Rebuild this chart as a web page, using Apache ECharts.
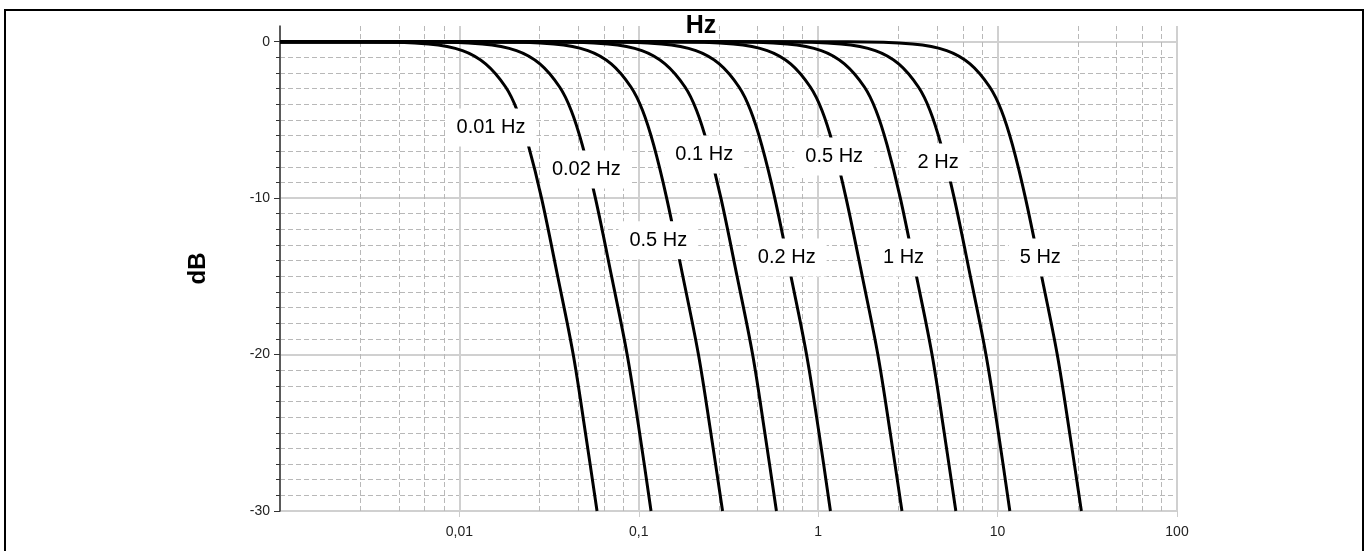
<!DOCTYPE html>
<html>
<head>
<meta charset="utf-8">
<title>Low-pass responses</title>
<script src="https://cdn.jsdelivr.net/npm/echarts@6.0.0/dist/echarts.min.js"></script>
<style>
  html, body { margin: 0; padding: 0; background: #fff; }
  #chart { width: 1370px; height: 551px; }
</style>
</head>
<body>
<div id="chart"></div>
<script>
// attenuation levels shared by every curve (dB)
const dbLevels = [0, 0, -0.15, -0.57, -1.42, -2.9, -4.4, -6.6, -10, -15, -20, -25, -30]

// frequencies (Hz) where each curve reaches the levels above
const hz001 = [0.001, 0.00293, 0.00672, 0.0104, 0.014, 0.0181, 0.021, 0.0242, 0.0287, 0.0353, 0.0431, 0.0504, 0.0585]
const hz002 = [0.001, 0.00586, 0.0134, 0.0208, 0.0281, 0.0362, 0.042, 0.0484, 0.0573, 0.0705, 0.0861, 0.101, 0.117]
const hz005 = [0.001, 0.0147, 0.0336, 0.052, 0.0702, 0.0904, 0.105, 0.121, 0.143, 0.176, 0.215, 0.252, 0.293]
const hz01 = [0.001, 0.0293, 0.0672, 0.104, 0.14, 0.181, 0.21, 0.242, 0.287, 0.353, 0.431, 0.504, 0.585]
const hz02 = [0.001, 0.0586, 0.134, 0.208, 0.281, 0.362, 0.42, 0.484, 0.573, 0.705, 0.861, 1.01, 1.17]
const hz05 = [0.001, 0.147, 0.336, 0.52, 0.702, 0.904, 1.05, 1.21, 1.43, 1.76, 2.15, 2.52, 2.93]
const hz1 = [0.001, 0.293, 0.672, 1.04, 1.4, 1.81, 2.1, 2.42, 2.87, 3.53, 4.31, 5.04, 5.85]
const hz2 = [0.001, 0.586, 1.34, 2.08, 2.81, 3.62, 4.2, 4.84, 5.73, 7.05, 8.61, 10.1, 11.7]
const hz5 = [0.001, 1.47, 3.36, 5.2, 7.02, 9.04, 10.5, 12.1, 14.3, 17.6, 21.5, 25.2, 29.3]

const curves = [hz001, hz002, hz005, hz01, hz02, hz05, hz1, hz2, hz5]

// curve labels as printed on the chart, and where they sit
const labelTexts = ['0.01 Hz', '0.02 Hz', '0.5 Hz', '0.1 Hz', '0.2 Hz', '0.5 Hz', '1 Hz', '2 Hz', '5 Hz']
const labelFreqs = [0.015, 0.051, 0.1285, 0.2317, 0.668, 1.228, 2.99, 4.66, 17.3]
const labelDb = [-5.49, -8.17, -12.7, -7.21, -13.8, -7.34, -13.8, -7.72, -13.8]

// labelled dB ticks
const dbTicks = [-30, -20, -10, 0]

const FONT = '"Liberation Sans", Arial, Helvetica, sans-serif'

const chart = echarts.init(document.getElementById('chart'))

const lineSeries = curves.map((freqs, i) => ({
  name: labelTexts[i],
  type: 'line',
  data: freqs.map((f, j) => [f, dbLevels[j]]),
  showSymbol: false,
  smooth: 0.35,
  lineStyle: { color: '#000', width: 3 },
  silent: true,
  z: 3,
}))

const option = {
  animation: false,
  grid: { left: 280, right: 193, top: 26, bottom: 40 },
  graphic: [
    {
      type: 'rect',
      silent: true,
      shape: { x: 5, y: 10, width: 1358, height: 600 },
      style: { fill: 'none', stroke: '#000', lineWidth: 2 },
    },
    {
      type: 'text',
      silent: true,
      x: 701,
      y: 26,
      style: {
        text: 'Hz',
        font: 'bold 25px ' + FONT,
        fill: '#000',
        align: 'center',
        verticalAlign: 'middle',
      },
    },
  ],
  xAxis: {
    type: 'log',
    logBase: 10,
    min: 0.001,
    max: 100,
    axisLine: { show: false, onZero: false },
    axisTick: { show: true, length: 6, lineStyle: { color: '#ccc' } },
    axisLabel: {
      showMinLabel: false,
      fontSize: 14,
      fontFamily: FONT,
      color: '#222',
      margin: 14,
      formatter: (v) => String(v).replace('.', ','),
    },
    splitLine: { show: true, lineStyle: { color: '#d0d0d0', width: 2 } },
    minorTick: { show: false, splitNumber: 5 },
    minorSplitLine: { show: true, lineStyle: { color: '#b8b8b8', width: 1, type: [5, 3] } },
  },
  yAxis: {
    type: 'value',
    min: -30,
    max: 1,
    interval: 10,
    name: 'dB',
    nameLocation: 'middle',
    nameRotate: 90,
    nameGap: 70,
    nameTextStyle: { fontSize: 24, fontWeight: 'bold', color: '#000', fontFamily: FONT },
    axisLine: { show: true, onZero: false, lineStyle: { color: '#333', width: 1.5 } },
    axisTick: { show: true, length: 6, customValues: dbTicks, lineStyle: { color: '#333' } },
    minorTick: { show: true, splitNumber: 10, length: 4, lineStyle: { color: '#333' } },
    axisLabel: { customValues: dbTicks, fontSize: 14, fontFamily: FONT, color: '#222', margin: 10 },
    splitLine: { show: true, lineStyle: { color: '#d0d0d0', width: 2 } },
    minorSplitLine: { show: true, lineStyle: { color: '#b8b8b8', width: 1, type: [5, 3] } },
  },
  series: [
    ...lineSeries,
    {
      type: 'scatter',
      data: labelTexts.map((t, i) => [labelFreqs[i], labelDb[i], t]),
      symbolSize: 0,
      itemStyle: { color: '#fff', opacity: 1 },
      label: {
        show: true,
        position: 'inside',
        formatter: (p) => p.value[2],
        fontSize: 20,
        fontFamily: FONT,
        color: '#000',
        opacity: 1,
        backgroundColor: '#ffffff',
        padding: [9, 11],
      },
      silent: true,
      zlevel: 1,
      z: 10,
    },
  ],
}
chart.setOption(option)
</script>
</body>
</html>
